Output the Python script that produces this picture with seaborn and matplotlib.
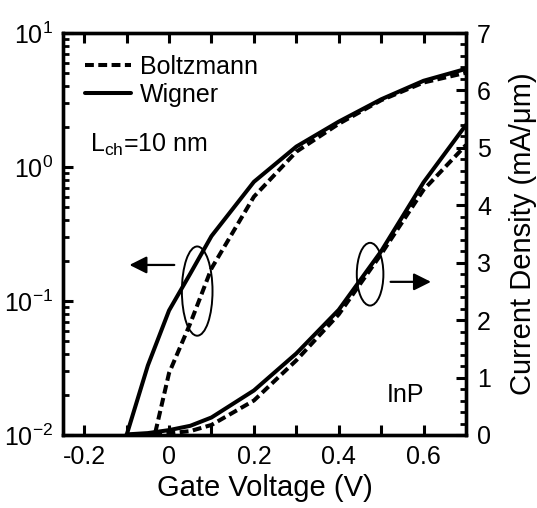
import matplotlib
matplotlib.use('Agg')
import matplotlib.pyplot as plt
from matplotlib.lines import Line2D
from matplotlib.patches import Ellipse
from matplotlib.ticker import MultipleLocator, LogLocator, NullFormatter
import pandas as pd
import seaborn as sns

# Drain current vs gate voltage, InP, L_ch = 10 nm (same data on log and linear axes)
gate_voltage = [-0.1, -0.05, 0.0, 0.05, 0.1, 0.2, 0.3, 0.4, 0.5, 0.6, 0.7]
wigner = [0.01, 0.033, 0.085, 0.16, 0.305, 0.775, 1.42, 2.18, 3.2, 4.4, 5.4]
boltzmann = [0.002, 0.006, 0.029, 0.068, 0.175, 0.6, 1.3, 2.1, 3.15, 4.27, 5.05]

x_ticks = [-0.2, -0.1, 0.0, 0.1, 0.2, 0.3, 0.4, 0.5, 0.6]
x_tick_labels = ['-0.2', '', '0', '', '0.2', '', '0.4', '', '0.6']
log_ticks = [0.01, 0.1, 1, 10]
log_tick_labels = [r'$\mathregular{10^{-2}}$', r'$\mathregular{10^{-1}}$',
                   r'$\mathregular{10^{0}}$', r'$\mathregular{10^{1}}$']
lin_ticks = [0, 1, 2, 3, 4, 5, 6, 7]

sns.set_style('ticks')
plt.rcParams['font.family'] = ['Liberation Sans', 'DejaVu Sans']
plt.rcParams['mathtext.fontset'] = 'custom'
plt.rcParams['mathtext.rm'] = 'Liberation Sans'
plt.rcParams['mathtext.it'] = 'Liberation Sans:italic'
plt.rcParams['mathtext.bf'] = 'Liberation Sans:bold'
for key in ('text.color', 'axes.labelcolor', 'xtick.color', 'ytick.color', 'axes.edgecolor'):
    plt.rcParams[key] = 'black'

df = pd.DataFrame({
    'V': gate_voltage * 2,
    'J': boltzmann + wigner,
    'model': ['Boltzmann'] * len(gate_voltage) + ['Wigner'] * len(gate_voltage),
})
dash_map = {'Boltzmann': (2.2, 1.1), 'Wigner': ''}

fig = plt.figure(figsize=(5.37, 5.08), dpi=100)
ax = fig.add_axes([63 / 537, 73 / 508, 403 / 537, 402 / 508])
ax2 = ax.twinx()

# log axis (left)
sns.lineplot(data=df, x='V', y='J', style='model', style_order=['Boltzmann', 'Wigner'],
             dashes=dash_map, color='black', linewidth=2.9, errorbar=None,
             legend=False, ax=ax)
ax.set_yscale('log')
ax.set_ylim(0.01, 10)
ax.set_xlim(-0.25, 0.7)
ax.set_yticks(log_ticks)
ax.set_yticklabels(log_tick_labels)
ax.yaxis.set_minor_locator(LogLocator(base=10, subs=range(2, 10)))
ax.yaxis.set_minor_formatter(NullFormatter())
ax.set_xticks(x_ticks)
ax.set_xticklabels(x_tick_labels)
ax.set_xlabel('Gate Voltage (V)', fontsize=21, labelpad=4)
ax.set_ylabel('')
ax.tick_params(axis='both', which='major', direction='in', length=7, width=2.2,
               labelsize=18, top=True, pad=7)
ax.tick_params(axis='y', which='minor', direction='in', length=4.5, width=2)

# linear axis (right)
sns.lineplot(data=df, x='V', y='J', style='model', style_order=['Boltzmann', 'Wigner'],
             dashes=dash_map, color='black', linewidth=2.9, errorbar=None,
             legend=False, ax=ax2)
ax2.set_ylim(0, 7)
ax2.set_yticks(lin_ticks)
ax2.yaxis.set_minor_locator(MultipleLocator(0.2))
ax2.set_ylabel('Current Density (mA/μm)', fontsize=21, labelpad=13)
ax2.tick_params(axis='y', which='major', direction='in', length=7, width=2.2,
                labelsize=18, pad=8)
ax2.tick_params(axis='y', which='minor', direction='in', length=4.5, width=2)

for a in (ax, ax2):
    for s in a.spines.values():
        s.set_linewidth(2.4)
        s.set_color('black')

handles = [Line2D([], [], color='black', lw=2.9, dashes=dash_map['Boltzmann']),
           Line2D([], [], color='black', lw=2.9)]
ax2.legend(handles, ['Boltzmann', 'Wigner'], loc='upper left', bbox_to_anchor=(0.01, 0.99),
           frameon=False, fontsize=18, handlelength=1.85, handletextpad=0.35,
           labelspacing=0.18, borderpad=0.2)

ax2.text(0.067, 0.721, r'L$_{\mathregular{ch}}$=10 nm', transform=ax2.transAxes,
         fontsize=18, va='center', ha='left')
ax2.text(0.804, 0.10, 'InP', transform=ax2.transAxes, fontsize=18, va='center', ha='left')

# ellipses marking which curves belong to which axis
ax2.add_patch(Ellipse((0.333, 0.358), 0.076, 0.222, transform=ax2.transAxes,
                      fill=False, lw=1.4, color='black'))
ax2.add_patch(Ellipse((0.762, 0.40), 0.066, 0.156, transform=ax2.transAxes,
                      fill=False, lw=1.4, color='black'))
ax2.annotate('', xy=(0.158, 0.423), xytext=(0.283, 0.423), xycoords='axes fraction',
             arrowprops=dict(arrowstyle='-|>', lw=1.6, color='black', mutation_scale=26))
ax2.annotate('', xy=(0.92, 0.381), xytext=(0.806, 0.381), xycoords='axes fraction',
             arrowprops=dict(arrowstyle='-|>', lw=1.6, color='black', mutation_scale=26))

fig.savefig('out.png', dpi=100)
plt.close(fig)
